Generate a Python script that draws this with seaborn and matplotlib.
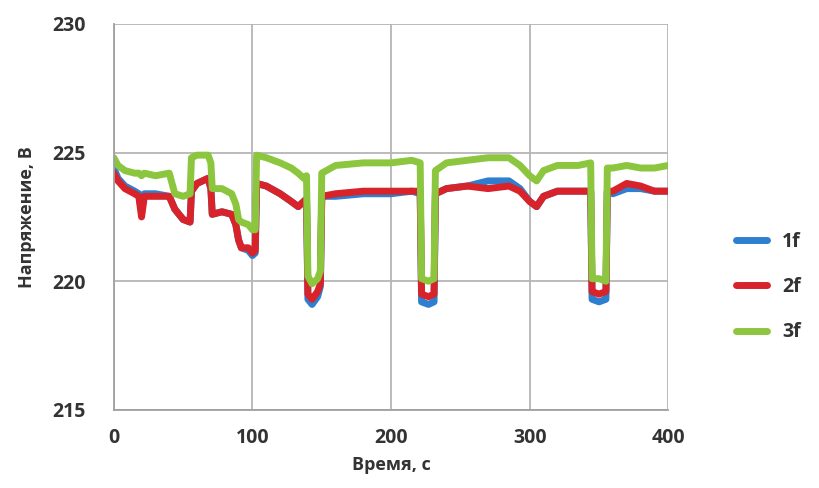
import matplotlib
matplotlib.use("Agg")
import matplotlib.pyplot as plt
import seaborn as sns
import pandas as pd

time_s = [0, 3, 8, 15, 18, 20, 22, 30, 40, 44, 50, 55, 56, 60, 68, 70, 71, 78, 85, 88,
          90, 92, 97, 100, 102, 103, 110, 120, 128, 133, 137, 139, 140, 143, 147, 149,
          150, 160, 180, 200, 215, 221, 222, 227, 231, 232, 240, 255, 270, 285, 293,
          300, 305, 310, 320, 335, 344, 345, 350, 355, 356, 360, 370, 380, 390, 400]

u_1f = [224.4, 224.0, 223.7, 223.5, 223.4, 222.7, 223.4, 223.4, 223.3, 222.8, 222.4, 222.3,
        223.5, 223.8, 224.0, 223.6, 222.6, 222.7, 222.6, 222.2, 221.6, 221.3, 221.2, 221.0,
        221.1, 223.8, 223.7, 223.4, 223.1, 222.9, 223.1, 223.2, 219.3, 219.1, 219.4, 219.8,
        223.3, 223.3, 223.4, 223.4, 223.5, 223.4, 219.2, 219.1, 219.2, 223.4, 223.6, 223.7,
        223.9, 223.9, 223.6, 223.1, 222.9, 223.3, 223.5, 223.5, 223.5, 219.3, 219.2, 219.3,
        223.5, 223.4, 223.6, 223.6, 223.5, 223.5]

u_2f = [224.2, 223.9, 223.6, 223.4, 223.3, 222.5, 223.3, 223.3, 223.3, 222.8, 222.4, 222.3,
        223.5, 223.8, 224.0, 223.6, 222.6, 222.7, 222.6, 222.2, 221.6, 221.3, 221.3, 221.1,
        221.2, 223.8, 223.7, 223.4, 223.1, 222.9, 223.1, 223.2, 219.5, 219.3, 219.6, 219.9,
        223.3, 223.4, 223.5, 223.5, 223.5, 223.5, 219.5, 219.4, 219.5, 223.4, 223.6, 223.7,
        223.6, 223.7, 223.5, 223.1, 222.9, 223.3, 223.5, 223.5, 223.5, 219.6, 219.5, 219.6,
        223.5, 223.5, 223.8, 223.7, 223.5, 223.5]

u_3f = [224.8, 224.5, 224.3, 224.2, 224.2, 224.1, 224.2, 224.1, 224.2, 223.4, 223.3, 223.4,
        224.8, 224.9, 224.9, 224.6, 223.6, 223.6, 223.4, 223.0, 222.4, 222.3, 222.2, 222.0,
        222.0, 224.9, 224.8, 224.6, 224.4, 224.2, 224.0, 224.1, 220.2, 219.9, 220.1, 220.4,
        224.2, 224.5, 224.6, 224.6, 224.7, 224.6, 220.1, 220.0, 220.1, 224.3, 224.6, 224.7,
        224.8, 224.8, 224.5, 224.1, 223.9, 224.3, 224.5, 224.5, 224.6, 220.1, 220.1, 220.0,
        224.4, 224.4, 224.5, 224.4, 224.4, 224.5]

phases = ["1f", "2f", "3f"]
colors = ["#2f7fd0", "#d8232a", "#8cc63f"]
x_ticks = [0, 100, 200, 300, 400]
y_ticks = [215, 220, 225, 230]

rows = []
for name, vals in zip(phases, [u_1f, u_2f, u_3f]):
    for t, v in zip(time_s, vals):
        rows.append({"t": t, "u": v, "phase": name})
df = pd.DataFrame(rows)

sns.set_style("white")
plt.rcParams["font.family"] = ["Open Sans", "DejaVu Sans"]

fig = plt.figure(figsize=(8.19, 4.88), dpi=100)
ax = fig.add_axes([0.139, 0.160, 0.677, 0.791])

sns.lineplot(data=df, x="t", y="u", hue="phase", palette=dict(zip(phases, colors)),
             linewidth=5, ax=ax, estimator=None, sort=False)

ax.set_xlim(0, 400)
ax.set_ylim(215, 230)
ax.set_xticks(x_ticks)
ax.set_yticks(y_ticks)
ax.grid(True, color="#b5b5b5", linewidth=1.3)
ax.set_axisbelow(True)
for s in ["top", "right"]:
    ax.spines[s].set_visible(False)
for s in ["left", "bottom"]:
    ax.spines[s].set_color("#a0a0a0")
    ax.spines[s].set_linewidth(1.3)
ax.tick_params(axis="both", direction="out", length=7, width=1.2, color="#a0a0a0",
               labelsize=14, labelcolor="#333333", pad=6)
ax.tick_params(axis="y", pad=13)
for lab in ax.get_xticklabels() + ax.get_yticklabels():
    lab.set_fontweight("bold")
ax.set_xlabel("Время, с", fontsize=13, fontweight="bold", color="#333333", labelpad=6)
ax.set_ylabel("Напряжение, В", fontsize=13, fontweight="bold", color="#333333", labelpad=12)

handles, labels = ax.get_legend_handles_labels()
ax.legend(handles, labels, loc="center left", bbox_to_anchor=(1.09, 0.318), frameon=False,
          handlelength=1.6, labelspacing=1.3, prop={"size": 14, "weight": "bold"},
          labelcolor="#333333", title=None)

fig.savefig("out.png", dpi=100)
